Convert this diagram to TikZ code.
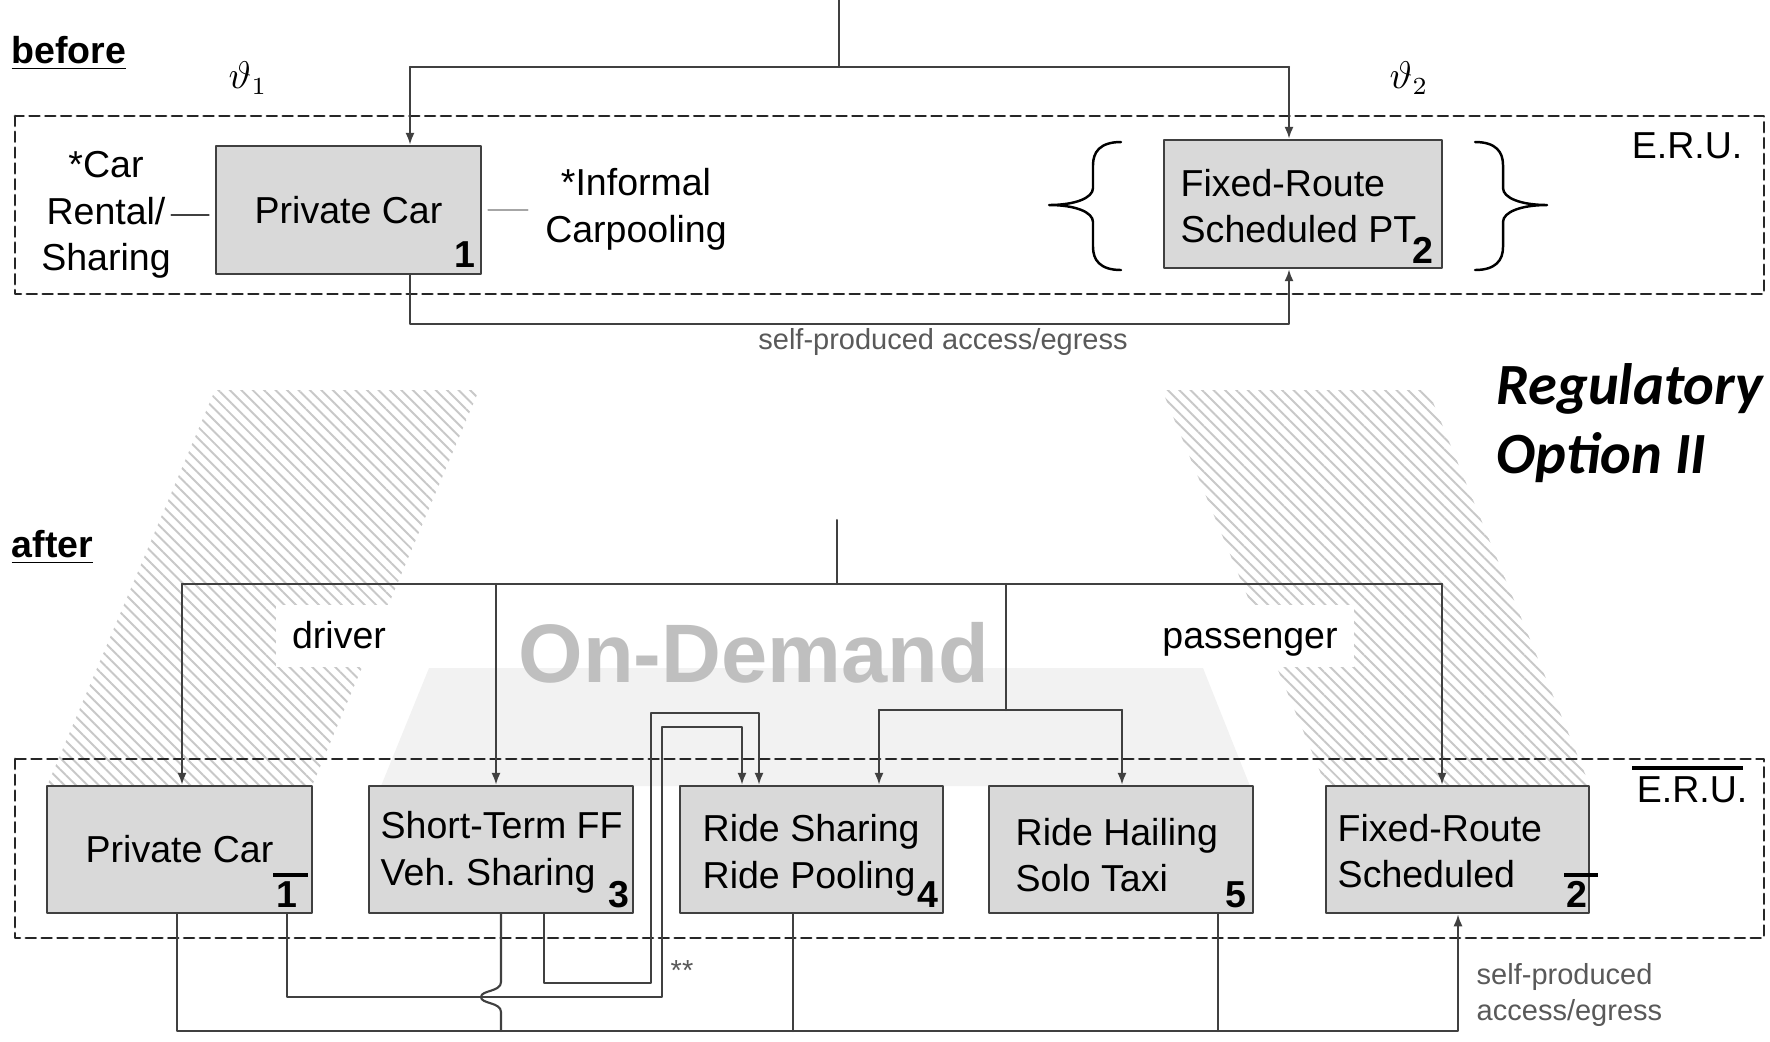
\documentclass[tikz,border=0pt]{standalone}
\usepackage[no-math]{fontspec}
\setmainfont{Liberation Sans}
\newfontfamily\calibrifont{Carlito}
\usetikzlibrary{arrows.meta}
\usetikzlibrary{patterns.meta}
\definecolor{boxgray}{HTML}{D9D9D9}
\definecolor{linegray}{HTML}{404040}
\definecolor{hatchgray}{HTML}{C8C8C8}
\definecolor{demandgray}{HTML}{BFBFBF}
\definecolor{fieldgray}{HTML}{F2F2F2}
\definecolor{notegray}{HTML}{595959}
\definecolor{lightline}{HTML}{A6A6A6}
\begin{document}
\begin{tikzpicture}[line cap=round,line join=round,x=0.01cm,y=-0.01cm,
modebox/.style={draw=linegray,line width=0.7pt,fill=boxgray,inner sep=0pt,font=\fontsize{10.67}{13.3}\selectfont},
boxtext/.style={inner sep=0pt,align=left,anchor=west,font=\fontsize{10.67}{13.3}\selectfont},
plain/.style={inner sep=0pt,font=\fontsize{10.67}{13.3}\selectfont},
modenum/.style={inner sep=0pt,anchor=base east,font=\fontsize{10.67}{13.3}\selectfont\bfseries},
conn/.style={draw=linegray,line width=0.6pt},
arr/.style={conn,-{Latex[length=3.4pt,width=2.6pt]}},
eru/.style={draw=black!85,line width=0.8pt,dash pattern=on 2.8pt off 1.7pt},
hatch/.style={pattern={Lines[angle=-45,distance=2.3pt,line width=0.55pt]},pattern color=hatchgray},
note/.style={inner sep=0pt,text=notegray,font=\fontsize{8.25}{10}\selectfont},
numbar/.style={line width=0.9pt,line cap=butt}]
\useasboundingbox (0,0) rectangle (1770,1041);
\node[plain,anchor=base west,font=\fontsize{10.67}{13.3}\selectfont\bfseries] (before) at (11,63) {\underline{before}};
\node[inner sep=0pt,font=\fontsize{10.5}{12}\selectfont] (theta1) at (248,78) {$\vartheta_1$};
\node[inner sep=0pt,font=\fontsize{10.5}{12}\selectfont] (theta2) at (1409,78) {$\vartheta_2$};
\draw[eru] (15,116) rectangle (1764,294);
\node[plain,anchor=base east] (erutop) at (1743,158) {E.R.U.};
\node[modebox,minimum width=2.65cm,minimum height=1.28cm] (pc) at (348.5,210) {Private Car\hspace{0.08cm}};
\node[modenum] (pcnum) at (476,267) {1};
\node[modebox,minimum width=2.78cm,minimum height=1.28cm] (pt) at (1303,204) {};
\node[boxtext] (pttext) at (1180,206) {Fixed-Route\\Scheduled PT};
\node[modenum] (ptnum) at (1434,263) {2};
\node[plain,align=center] (carsharing) at (106,215) {*Car\\Rental/\\Sharing};
\node[plain,align=center] (carpooling) at (636,209) {*Informal\\Carpooling};
\draw[conn,shorten >=1.7pt] (carsharing.east) -- (carsharing.east -| pc.west);
\draw[conn,draw=lightline,shorten <=1.7pt,shorten >=4.8pt] (pc.east) -- (pc.east -| carpooling.west);
\draw[line width=0.7pt] (1121,142) .. controls (1100,142) and (1093,152) .. (1093,165) -- (1093,188) .. controls (1093,198) and (1075,205) .. (1049,205) .. controls (1075,205) and (1093,212) .. (1093,222) -- (1093,247) .. controls (1093,260) and (1100,270) .. (1121,270);
\draw[line width=0.7pt] (1475,142) .. controls (1496,142) and (1503,152) .. (1503,165) -- (1503,188) .. controls (1503,198) and (1521,205) .. (1547,205) .. controls (1521,205) and (1503,212) .. (1503,222) -- (1503,247) .. controls (1503,260) and (1496,270) .. (1475,270);
\coordinate (topin) at (839,0);
\coordinate (topsplit) at (839,67);
\coordinate (tpc) at (410,67);
\coordinate (tpt) at (1289,67);
\draw[conn] (topin) -- (topsplit);
\draw[conn] (tpc) -- (tpt);
\draw[arr] (tpc) -- (tpc |- pc.north);
\draw[arr] (tpt) -- (tpt |- pt.north);
\coordinate (apc) at (410,324);
\coordinate (apt) at (1289,324);
\draw[arr] (apc |- pc.south) -- (apc) -- (apt) -- (apt |- pt.south);
\node[note] (accesstop) at (943,342) {self-produced access/egress};
\node[anchor=west,inner sep=0pt,align=left,font=\calibrifont\fontsize{16.6}{19.6}\selectfont\bfseries\itshape] (regopt) at (1496,423) {Regulatory\\Option II};
\node[plain,anchor=base west,font=\fontsize{10.67}{13.3}\selectfont\bfseries] (after) at (11,557) {\underline{after}};
\path[hatch] (215,390) -- (479,390) -- (312,786) -- (47,786) -- cycle;
\path[hatch] (1162,390) -- (1428,390) -- (1590,786) -- (1326,786) -- cycle;
\fill[fieldgray] (429,668) -- (1203,668) -- (1250,786) -- (381,786) -- cycle;
\fill[white] (276,605) rectangle (396,667);
\fill[white] (1147,605) rectangle (1354,667);
\node[plain,anchor=base] (driver) at (339,648) {driver};
\node[plain,anchor=base] (passenger) at (1250,648) {passenger};
\node[anchor=base west,inner sep=0pt,text=demandgray,font=\fontsize{23.6}{28}\selectfont\bfseries] (ondemand) at (518,682) {On-Demand};
\draw[eru] (15,759) rectangle (1764,938);
\node[plain,anchor=base east] (erubot) at (1748,802) {E.R.U.};
\draw[numbar] (1632,768) -- (1743,768);
\coordinate (botin) at (837,520);
\coordinate (botsplit) at (837,584);
\coordinate (bpcar) at (182,584);
\coordinate (bst) at (496,584);
\coordinate (bpax) at (1006,584);
\coordinate (bfr) at (1442,584);
\coordinate (paxsplit) at (1006,710);
\coordinate (prs) at (879,710);
\coordinate (prh) at (1122,710);
\node[modebox,minimum width=2.65cm,minimum height=1.27cm] (pcar) at (179.5,849.5) {Private Car};
\node[modenum] (pcarnum) at (298,907) {1};
\draw[numbar] (273,875) -- (308,875);
\node[modebox,minimum width=2.64cm,minimum height=1.27cm] (shortterm) at (501,849.5) {};
\node[boxtext] (sttext) at (380,852) {Short-Term FF\\Veh.\ Sharing};
\node[modenum] (stnum) at (630,907) {3};
\node[modebox,minimum width=2.63cm,minimum height=1.27cm] (ridesharing) at (811.5,849.5) {};
\node[boxtext] (rstext) at (702,855) {Ride Sharing\\Ride Pooling};
\node[modenum] (rsnum) at (939,907) {4};
\node[modebox,minimum width=2.64cm,minimum height=1.27cm] (ridehailing) at (1121,849.5) {};
\node[boxtext] (rhtext) at (1015,855) {Ride Hailing\\Solo Taxi};
\node[modenum] (rhnum) at (1247,907) {5};
\node[modebox,minimum width=2.63cm,minimum height=1.27cm] (fixedroute) at (1457.5,849.5) {};
\node[boxtext] (frtext) at (1337,851) {Fixed-Route\\Scheduled};
\node[modenum] (frnum) at (1588,907) {2};
\draw[numbar] (1564,875) -- (1598,875);
\draw[conn] (botin) -- (botsplit);
\draw[conn] (bpcar) -- (bfr);
\draw[arr] (bpcar) -- (bpcar |- pcar.north);
\draw[arr] (bst) -- (bst |- shortterm.north);
\draw[conn] (bpax) -- (paxsplit);
\draw[conn] (prs) -- (prh);
\draw[arr] (prs) -- (prs |- ridesharing.north);
\draw[arr] (prh) -- (prh |- ridehailing.north);
\draw[arr] (bfr) -- (bfr |- fixedroute.north);
\coordinate (lo1) at (544,983);
\coordinate (lo2) at (651,983);
\coordinate (lo3) at (651,713);
\coordinate (lo4) at (759,713);
\draw[arr] (lo1 |- shortterm.south) -- (lo1) -- (lo2) -- (lo3) -- (lo4) -- (lo4 |- ridesharing.north);
\coordinate (li1) at (287,997);
\coordinate (li2) at (662,997);
\coordinate (li3) at (662,727);
\coordinate (li4) at (742,727);
\draw[arr] (li1 |- pcar.south) -- (li1) -- (li2) -- (li3) -- (li4) -- (li4 |- ridesharing.north);
\coordinate (ac1) at (177,1031);
\coordinate (ac2) at (1458,1031);
\draw[arr] (ac1 |- pcar.south) -- (ac1) -- (ac2) -- (ac2 |- fixedroute.south);
\coordinate (st1) at (501,1031);
\draw[conn] (st1 |- shortterm.south) -- (501,982) .. controls (501,992) and (481,990) .. (481,997) .. controls (481,1004) and (501,1002) .. (501,1012) -- (st1);
\coordinate (rs1) at (793,1031);
\draw[conn] (rs1 |- ridesharing.south) -- (rs1);
\coordinate (rh1) at (1218,1031);
\draw[conn] (rh1 |- ridehailing.south) -- (rh1);
\node[note] (stars) at (682,970) {**};
\node[note,anchor=west,align=left] (accessbot) at (1476,995) {self-produced\\access/egress};
\end{tikzpicture}
\end{document}
